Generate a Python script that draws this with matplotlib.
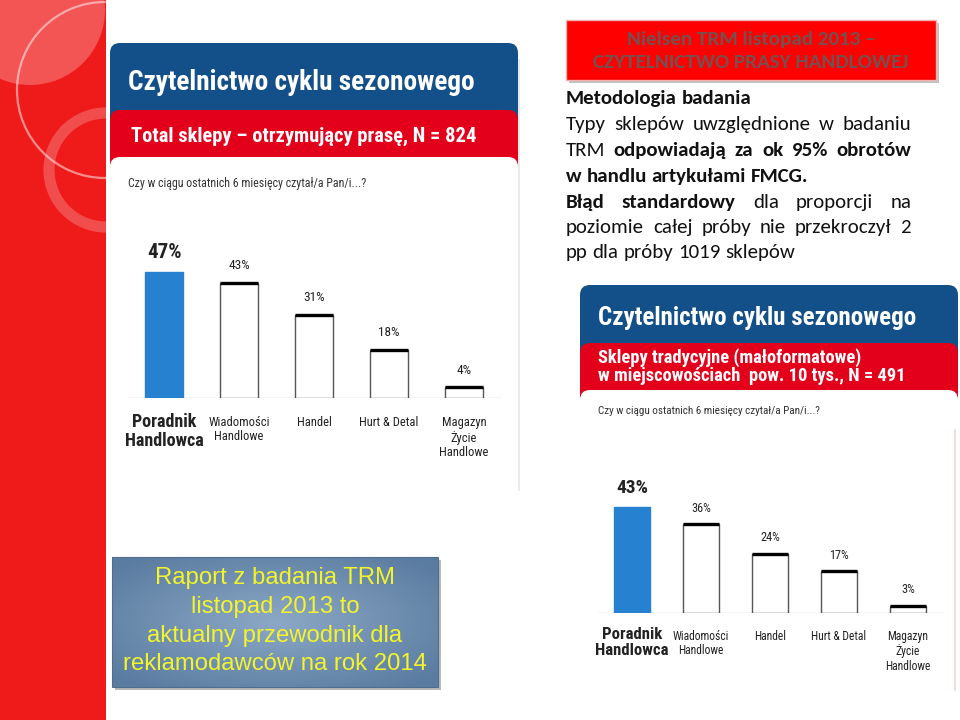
import numpy as np
import matplotlib.pyplot as plt
from matplotlib import font_manager
from matplotlib.patches import FancyBboxPatch, Rectangle, Circle

W, H = 960, 720

# data
categories = ['Poradnik\nHandlowca', 'Wiadomości\nHandlowe', 'Handel',
              'Hurt & Detal', 'Magazyn\nŻycie\nHandlowe']
total_values = [47, 43, 31, 18, 4]        # Total sklepy, N = 824
small_town_values = [43, 36, 24, 17, 3]   # sklepy tradycyjne, N = 491

installed = {f.name for f in font_manager.fontManager.ttflist}


def pick(*names):
    for n in names:
        if n in installed:
            return [n, 'DejaVu Sans']
    return ['DejaVu Sans']


NARROW = pick('Liberation Sans Narrow', 'Arial Narrow', 'Roboto Condensed',
              'Archivo Narrow', 'PT Sans Narrow', 'Nimbus Sans Narrow', 'Liberation Sans')
BODY = pick('Carlito', 'Calibri', 'Lato', 'Open Sans')
ARIAL = pick('Liberation Sans', 'Arimo', 'DejaVu Sans')

RED = '#ef1b1b'
NAVY = '#134f88'
BAND = '#e2001a'
BLUE_BAR = '#2681d0'


def rbox(ax, x0, y0, x1, y1, color, r=10, z=1, **kw):
    p = FancyBboxPatch((x0, y0), x1 - x0, y1 - y0,
                       boxstyle=f'round,pad=0,rounding_size={r}',
                       fc=color, ec='none', zorder=z, **kw)
    ax.add_patch(p)
    return p


def put_line(ax, parts, x0, y, x1=None, size=13.5):
    # one line of text, word by word; justified when x1 is given
    renderer = ax.figure.canvas.get_renderer()
    items = []
    for txt, bold in parts:
        for w in txt.split():
            items.append(ax.text(x0, y + size * 0.36, w, fontsize=size, family=BODY,
                                 fontweight='bold' if bold else 'normal',
                                 va='baseline', ha='left', color='#111111'))
    widths = [t.get_window_extent(renderer).width for t in items]
    if x1 is not None and len(items) > 1:
        gap = (x1 - x0 - sum(widths)) / (len(items) - 1)
    else:
        gap = size * 100 / 72 * 0.23
    x = x0
    for t, w in zip(items, widths):
        t.set_x(x)
        x += w + gap


def bar_chart(fig, left, right, top, base, ymax, values, scale=1.0):
    ax = fig.add_axes([left / W, 1 - base / H, (right - left) / W, (base - top) / H])
    ax.set_xlim(-0.5, len(values) - 0.5)
    ax.set_ylim(0, ymax)
    ax.axis('off')
    xs = np.arange(len(values))
    colors = [BLUE_BAR] + ['white'] * (len(values) - 1)
    edges = [BLUE_BAR] + ['#555555'] * (len(values) - 1)
    ax.bar(xs, values, width=0.51, color=colors, edgecolor=edges, linewidth=1.0, zorder=2)
    for x, v in zip(xs[1:], values[1:]):
        ax.plot([x - 0.255, x + 0.255], [v, v], color='black', lw=2.4,
                solid_capstyle='butt', zorder=3)
    ax.axhline(0, color='#cfcfcf', lw=1.0, zorder=1)
    pt = 0.72  # points per pixel
    for i, (lab, v) in enumerate(zip(categories, values)):
        first = i == 0
        ax.annotate(f'{v}%', (i, v), xytext=(0, (20 if first else 17) * scale * pt),
                    textcoords='offset points', ha='center', va='center',
                    family=NARROW, fontsize=(15 if first else 9.5) * scale,
                    fontweight='bold' if first else 'normal', color='#222222',
                    annotation_clip=False)
        ax.annotate(lab, (i, 0), xytext=(0, -(15 if first else 18) * scale * pt),
                    textcoords='offset points', ha='center', va='top',
                    family=NARROW, fontsize=(13 if first else 9) * scale,
                    fontweight='bold' if first else 'normal', color='#222222',
                    linespacing=1.1 if first else 1.15, annotation_clip=False)
    return ax


fig = plt.figure(figsize=(W / 100, H / 100), dpi=100)
bg = fig.add_axes([0, 0, 1, 1])
bg.set_xlim(0, W)
bg.set_ylim(H, 0)
bg.axis('off')

# left red strip with decorative circles
strip = Rectangle((0, 0), 106, H, fc=RED, ec='none', zorder=1)
bg.add_patch(strip)
blob = Circle((30, 10), 75, fc='white', alpha=0.25, ec='none', zorder=2)
bg.add_patch(blob)
blob.set_clip_path(strip)
c1 = Circle((105, 90), 88, fill=False, ec='white', lw=1.6, alpha=0.5, zorder=2)
bg.add_patch(c1)
c1.set_clip_path(strip)
c2 = Circle((106, 170), 57, fill=False, ec='white', lw=8, alpha=0.22, zorder=2)
bg.add_patch(c2)
c2.set_clip_path(strip)

# left chart panel
rbox(bg, 110, 43, 518, 150, NAVY, z=3)
rbox(bg, 110, 110, 518, 200, BAND, z=4)
rbox(bg, 110, 157, 518, 490, 'white', z=5)
bg.plot([519, 519], [60, 490], color='#e6e6e6', lw=1.2, zorder=2)
bg.text(128, 82, 'Czytelnictwo cyklu sezonowego', family=NARROW, fontweight='bold',
        fontsize=19.6, color='white', va='center', ha='left', zorder=6)
bg.text(131, 136, 'Total sklepy – otrzymujący prasę, N = 824', family=NARROW,
        fontweight='bold', fontsize=14.8, color='white', va='center', ha='left', zorder=6)
bg.text(128, 184, 'Czy w ciągu ostatnich 6 miesięcy czytał/a Pan/i...?', family=NARROW,
        fontsize=8.6, color='#333333', va='center', ha='left', zorder=6)

# right chart panel
rbox(bg, 580, 285, 958, 380, NAVY, z=3)
rbox(bg, 580, 343, 958, 420, BAND, z=4)
rbox(bg, 580, 390, 958, 695, 'white', z=5)
bg.plot([955, 955], [430, 690], color='#f2d6d6', lw=1.2, zorder=6)
bg.text(598, 318, 'Czytelnictwo cyklu sezonowego', family=NARROW, fontweight='bold',
        fontsize=18, color='white', va='center', ha='left', zorder=6)
bg.text(598, 367, 'Sklepy tradycyjne (małoformatowe)\nw miejscowościach  pow. 10 tys., N = 491',
        family=NARROW, fontweight='bold', fontsize=13.3, color='white', va='center',
        ha='left', linespacing=1.0, zorder=6)
bg.text(598, 411, 'Czy w ciągu ostatnich 6 miesięcy czytał/a Pan/i...?', family=NARROW,
        fontsize=8, color='#333333', va='center', ha='left', zorder=6)

# title box top right
bg.add_patch(Rectangle((569, 23), 370, 60, fc='#9a9a9a', ec='none', alpha=0.6, zorder=2))
bg.add_patch(Rectangle((566, 20), 370, 60, fc='#ff0000', ec='#f4b0b0', lw=1, zorder=3))
bg.text(751, 40, 'Nielsen TRM listopad 2013 –', family=BODY, fontweight='bold',
        fontsize=15.2, color='#745050', va='center', ha='center', zorder=4)
bg.text(751, 63, 'CZYTELNICTWO PRASY HANDLOWEJ', family=BODY, fontweight='bold',
        fontsize=15.2, color='#745050', va='center', ha='center', zorder=4)

# methodology text
x0, x1 = 566, 911
fs = 15
put_line(bg, [('Metodologia badania', True)], x0, 99, size=fs)
put_line(bg, [('Typy sklepów uwzględnione w badaniu', False)], x0, 125, x1, size=fs)
put_line(bg, [('TRM', False), ('odpowiadają za ok 95% obrotów', True)], x0, 151, x1, size=fs)
put_line(bg, [('w handlu artykułami FMCG.', True)], x0, 177, size=fs)
put_line(bg, [('Błąd standardowy', True), ('dla proporcji na', False)], x0, 203, x1, size=fs)
put_line(bg, [('poziomie całej próby nie przekroczył 2', False)], x0, 228, x1, size=fs)
put_line(bg, [('pp dla próby 1019 sklepów', False)], x0, 253, size=fs)

# report box bottom left
bg.add_patch(Rectangle((115, 560), 326, 130, fc='#8a8a8a', alpha=0.6, ec='none', zorder=2))
gx, gy = np.meshgrid(np.linspace(-1, 1, 200), np.linspace(-1, 1, 80))
rad = np.clip(np.sqrt(gx ** 2 + gy ** 2) / 1.3, 0, 1)
c_in = np.array([0x8c, 0xa8, 0xc6]) / 255
c_out = np.array([0x5a, 0x7c, 0xa0]) / 255
grad = c_in[None, None, :] * (1 - rad[..., None]) + c_out[None, None, :] * rad[..., None]
bg.imshow(grad, extent=(112, 438, 687, 557), aspect='auto', zorder=3)
bg.add_patch(Rectangle((112, 557), 326, 130, fill=False, ec='#4f6d8d', lw=0.8, zorder=4))
for y, line in zip([578, 607, 636, 664], ['Raport z badania TRM', 'listopad 2013 to',
                                          'aktualny przewodnik dla',
                                          'reklamodawców na rok 2014']):
    bg.text(275, y, line, family=ARIAL, fontsize=17.2, color='#f4f42a',
            ha='center', va='center', zorder=5)

bg.set_xlim(0, W)
bg.set_ylim(H, 0)

# the two bar charts
bar_chart(fig, 126.5, 501.5, 250.6, 398, 55, total_values)
bar_chart(fig, 597.5, 942.5, 489.5, 613, 50, small_town_values, scale=0.93)

fig.savefig('out.png', dpi=100)
